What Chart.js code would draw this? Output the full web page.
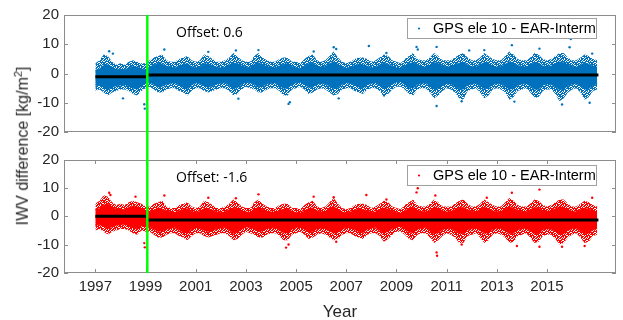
<!DOCTYPE html>
<html>
<head>
<meta charset="utf-8">
<script src="https://cdn.jsdelivr.net/npm/chart.js@4.4.1/dist/chart.umd.min.js"></script>
<style>
  html, body { margin: 0; padding: 0; background: #fff; }
  #wrap { position: relative; width: 623px; height: 320px; overflow: hidden; }
  #topChart { position: absolute; left: 0; top: 0; }
  #botChart { position: absolute; left: 0; top: 146px; }
  #yTitle {
    position: absolute; left: 22px; top: 146px;
    transform: translate(-50%, -50%) rotate(-90deg);
    white-space: nowrap;
    font: 16px "Liberation Sans", Arial, sans-serif;
    color: #262626;
  }
  #yTitle sup { font-size: 11px; }
</style>
</head>
<body>
<div id="wrap">
  <canvas id="topChart" width="623" height="146"></canvas>
  <canvas id="botChart" width="623" height="177"></canvas>
  <div id="yTitle">IWV difference [kg/m<sup>2</sup>]</div>
</div>
<script>
// samples every 2 months, 1997.0 .. 2017.0 (one row per year)
const binStart = 1997;
const binStep = 1 / 6;

const xTickYears = [1997, 1999, 2001, 2003, 2005, 2007, 2009, 2011, 2013, 2015];
const yTickValues = [-20, -10, 0, 10, 20];
const breakYear = 1999.07;
const legendLabel = 'GPS ele 10 - EAR-Interm';

// --- top panel (blue) ---
const blueCoreHi = [
  1.2, 1.6, 2.8, 3.0, 2.2, 1.4,
  1.5, 1.3, 2.0, 2.4, 2.2, 1.6,
  1.4, 2.4, 2.8, 3.6, 3.2, 2.6,
  2.2, 2.0, 2.6, 3.0, 3.4, 2.4,
  2.0, 2.4, 3.4, 3.2, 2.8, 2.2,
  2.0, 2.2, 3.0, 3.6, 3.4, 2.6,
  2.2, 2.0, 3.2, 3.8, 3.0, 2.4,
  2.2, 2.0, 2.6, 3.2, 3.4, 2.4,
  2.0, 1.8, 2.6, 3.4, 3.6, 2.6,
  2.2, 2.4, 3.4, 4.0, 3.2, 2.2,
  1.8, 2.2, 2.8, 3.2, 3.0, 2.6,
  2.0, 2.2, 3.0, 3.6, 3.2, 2.6,
  2.0, 1.8, 2.6, 3.4, 3.8, 2.8,
  2.4, 2.2, 2.8, 3.8, 3.4, 2.6,
  2.2, 2.4, 3.0, 3.6, 3.8, 3.0,
  2.4, 2.2, 3.0, 3.8, 3.4, 2.6,
  2.2, 2.4, 3.2, 4.0, 3.6, 2.8,
  2.4, 2.2, 3.0, 3.8, 3.6, 2.6,
  2.4, 2.6, 3.4, 4.0, 3.8, 3.0,
  2.4, 2.2, 3.0, 3.6, 3.2, 2.6,
  2.2
];
const blueCoreLo = [
  -4.2, -4.0, -4.6, -5.4, -4.8, -4.2,
  -4.0, -3.8, -4.4, -5.0, -5.4, -4.4,
  -3.4, -3.0, -3.8, -4.6, -4.4, -3.8,
  -3.4, -3.2, -4.0, -4.8, -5.2, -4.0,
  -3.2, -3.4, -4.2, -4.6, -4.4, -3.6,
  -3.4, -3.2, -4.0, -5.2, -4.8, -3.8,
  -3.0, -3.2, -3.8, -4.6, -4.4, -3.6,
  -3.4, -3.2, -4.2, -5.0, -5.0, -3.8,
  -3.2, -3.0, -3.8, -4.8, -4.6, -3.6,
  -3.4, -3.6, -4.4, -5.2, -4.8, -3.8,
  -3.2, -3.4, -4.0, -4.6, -5.0, -3.8,
  -3.4, -3.2, -4.2, -5.2, -4.6, -3.6,
  -3.0, -2.8, -3.8, -4.8, -5.0, -3.8,
  -3.4, -3.2, -4.4, -5.4, -5.0, -4.0,
  -3.4, -3.6, -4.4, -5.2, -5.4, -4.0,
  -3.6, -3.4, -4.2, -5.2, -5.0, -3.8,
  -3.4, -3.6, -4.4, -5.4, -5.2, -4.0,
  -3.6, -3.4, -4.4, -5.4, -5.4, -4.0,
  -3.6, -3.8, -4.6, -5.6, -5.4, -4.2,
  -3.6, -3.4, -4.4, -5.4, -5.2, -4.0,
  -3.6
];
const blueOutHi = [
  3.5, 4.5, 6.5, 6.0, 4.0, 3.0,
  3.5, 3.0, 4.0, 4.5, 4.0, 3.5,
  3.5, 4.5, 5.5, 6.0, 6.5, 4.5,
  4.0, 4.0, 5.0, 5.5, 6.0, 4.5,
  4.0, 4.5, 6.5, 6.0, 5.0, 4.0,
  4.0, 4.5, 5.5, 7.0, 6.0, 4.5,
  4.0, 4.0, 6.0, 7.0, 5.5, 4.5,
  4.0, 4.0, 5.0, 5.5, 5.5, 4.0,
  4.0, 3.5, 5.0, 6.0, 6.5, 4.5,
  4.0, 4.5, 6.0, 7.5, 5.5, 4.0,
  3.5, 4.0, 5.0, 5.5, 5.5, 5.0,
  4.0, 4.5, 5.5, 6.5, 6.0, 4.5,
  4.0, 3.5, 5.0, 6.0, 7.0, 5.0,
  4.5, 4.5, 5.5, 7.0, 6.0, 4.5,
  4.5, 4.5, 5.5, 6.5, 7.0, 5.5,
  4.5, 4.5, 5.5, 7.0, 6.0, 5.0,
  4.5, 4.5, 6.0, 7.5, 6.5, 5.0,
  4.5, 4.5, 5.5, 7.0, 6.5, 5.0,
  4.5, 5.0, 6.0, 7.0, 7.0, 5.5,
  4.5, 4.5, 5.5, 6.5, 6.0, 5.0,
  4.5
];
const blueOutLo = [
  -6.0, -5.5, -6.5, -7.5, -6.5, -6.0,
  -5.5, -5.5, -6.0, -7.0, -7.5, -6.0,
  -5.0, -4.5, -5.5, -6.5, -6.5, -5.5,
  -5.0, -5.0, -6.0, -6.5, -7.5, -6.0,
  -5.0, -5.0, -6.0, -6.5, -6.0, -5.5,
  -5.0, -5.0, -6.0, -7.5, -7.0, -5.5,
  -4.5, -5.0, -5.5, -6.5, -6.5, -5.5,
  -5.0, -5.0, -6.0, -7.5, -7.5, -5.5,
  -5.0, -4.5, -5.5, -7.0, -6.5, -5.5,
  -5.0, -5.5, -6.5, -7.5, -7.0, -5.5,
  -5.0, -5.0, -6.0, -6.5, -7.0, -5.5,
  -5.0, -5.0, -6.0, -8.0, -7.0, -5.5,
  -4.5, -4.5, -5.5, -7.0, -7.5, -5.5,
  -5.0, -5.0, -6.5, -8.5, -7.5, -6.0,
  -5.0, -5.5, -6.5, -8.5, -9.0, -6.0,
  -5.5, -5.0, -6.5, -8.5, -7.5, -5.5,
  -5.0, -5.5, -6.5, -9.0, -8.0, -6.0,
  -5.5, -5.0, -6.5, -8.5, -8.0, -6.0,
  -5.5, -5.5, -7.0, -9.5, -8.5, -6.5,
  -5.5, -5.0, -6.5, -9.0, -8.0, -6.0,
  -5.5
];
const blueOutliers = [
  [1997.55, 7.6], [1997.7, 6.8], [1998.1, -8.5], [1998.95, -10.5], [1998.97, -12.0],
  [1999.75, 8.2], [2001.5, 7.4], [2002.6, 7.9], [2002.7, -8.6], [2003.5, 8.0],
  [2004.7, -10.4], [2004.75, -9.8], [2005.7, 7.5], [2006.5, 9.0], [2006.6, 8.4],
  [2006.7, -8.5], [2007.9, 9.4], [2008.6, 7.0], [2009.8, 9.1], [2009.85, 8.2],
  [2010.6, 9.1], [2010.6, -11.1], [2011.6, -9.5], [2011.9, 7.9], [2012.5, 8.0],
  [2013.6, 9.7], [2013.7, -9.6], [2014.7, 8.5], [2015.6, -10.6], [2015.9, 9.0],
  [2015.95, 11.8], [2016.7, -10.0], [2016.8, 6.8]
];
const blueMeanBefore = -1.15;
const blueMeanAfter = -0.55;
const blueOffsetText = 'Offset: 0.6';

// --- bottom panel (red) ---
const redCoreHi = [
  2.4, 2.8, 4.0, 4.4, 3.4, 2.6,
  2.6, 2.4, 3.2, 3.6, 3.4, 2.8,
  2.0, 1.8, 2.2, 3.0, 2.6, 2.0,
  1.6, 1.4, 2.0, 2.4, 2.8, 1.8,
  1.4, 1.8, 2.8, 2.6, 2.2, 1.6,
  1.4, 1.6, 2.4, 3.0, 2.8, 2.0,
  1.6, 1.4, 2.6, 3.2, 2.4, 1.8,
  1.6, 1.4, 2.0, 2.6, 2.8, 1.8,
  1.4, 1.2, 2.0, 2.8, 3.0, 2.0,
  1.6, 1.8, 2.8, 3.4, 2.6, 1.6,
  1.2, 1.6, 2.2, 2.6, 2.4, 2.0,
  1.4, 1.6, 2.4, 3.0, 2.6, 2.0,
  1.4, 1.2, 2.0, 2.8, 3.2, 2.2,
  1.8, 1.6, 2.2, 3.2, 2.8, 2.0,
  1.6, 1.8, 2.4, 3.0, 3.2, 2.4,
  1.8, 1.6, 2.4, 3.2, 2.8, 2.0,
  1.6, 1.8, 2.6, 3.4, 3.0, 2.2,
  1.8, 1.6, 2.4, 3.2, 3.0, 2.0,
  1.8, 2.0, 2.8, 3.4, 3.2, 2.4,
  1.8, 1.6, 2.4, 3.0, 2.6, 2.0,
  1.6
];
const redCoreLo = [
  -3.2, -3.0, -3.6, -4.4, -3.8, -3.2,
  -3.0, -2.8, -3.4, -4.0, -4.4, -3.4,
  -3.8, -3.8, -4.6, -5.4, -5.2, -4.6,
  -4.2, -4.0, -4.8, -5.6, -6.0, -4.8,
  -4.0, -4.2, -5.0, -5.4, -5.2, -4.4,
  -4.2, -4.0, -4.8, -6.0, -5.6, -4.6,
  -3.8, -4.0, -4.6, -5.4, -5.2, -4.4,
  -4.2, -4.0, -5.0, -5.8, -5.8, -4.6,
  -4.0, -3.8, -4.6, -5.6, -5.4, -4.4,
  -4.2, -4.4, -5.2, -6.0, -5.6, -4.6,
  -4.0, -4.2, -4.8, -5.4, -5.8, -4.6,
  -4.2, -4.0, -5.0, -6.0, -5.4, -4.4,
  -3.8, -3.6, -4.6, -5.6, -5.8, -4.6,
  -4.2, -4.0, -5.2, -6.2, -5.8, -4.8,
  -4.2, -4.4, -5.2, -6.0, -6.2, -4.8,
  -4.4, -4.2, -5.0, -6.0, -5.8, -4.6,
  -4.2, -4.4, -5.2, -6.2, -6.0, -4.8,
  -4.4, -4.2, -5.2, -6.2, -6.2, -4.8,
  -4.4, -4.6, -5.4, -6.4, -6.2, -5.0,
  -4.4, -4.2, -5.2, -6.2, -6.0, -4.8,
  -4.4
];
const redOutHi = [
  4.5, 5.5, 7.5, 7.0, 5.0, 4.0,
  4.5, 4.0, 5.0, 5.5, 5.0, 4.5,
  3.5, 3.5, 4.5, 5.0, 5.5, 3.5,
  3.0, 3.0, 4.0, 4.5, 5.0, 3.5,
  3.0, 3.5, 5.5, 5.0, 4.0, 3.0,
  3.0, 3.5, 4.5, 6.0, 5.0, 3.5,
  3.0, 3.0, 5.0, 6.0, 4.5, 3.5,
  3.0, 3.0, 4.0, 4.5, 4.5, 3.0,
  3.0, 2.5, 4.0, 5.0, 5.5, 3.5,
  3.0, 3.5, 5.0, 6.5, 4.5, 3.0,
  2.5, 3.0, 4.0, 4.5, 4.5, 4.0,
  3.0, 3.5, 4.5, 5.5, 5.0, 3.5,
  3.0, 2.5, 4.0, 5.0, 6.0, 4.0,
  3.5, 3.5, 4.5, 6.0, 5.0, 3.5,
  3.5, 3.5, 4.5, 5.5, 6.0, 4.5,
  3.5, 3.5, 4.5, 6.0, 5.0, 4.0,
  3.5, 3.5, 5.0, 6.5, 5.5, 4.0,
  3.5, 3.5, 4.5, 6.0, 5.5, 4.0,
  3.5, 4.0, 5.0, 6.0, 6.0, 4.5,
  3.5, 3.5, 4.5, 5.5, 5.0, 4.0,
  3.5
];
const redOutLo = [
  -5.0, -4.5, -5.5, -6.5, -5.5, -5.0,
  -4.5, -4.5, -5.0, -6.0, -6.5, -5.0,
  -5.5, -5.5, -6.5, -7.5, -7.5, -6.5,
  -6.0, -6.0, -7.0, -7.5, -8.5, -7.0,
  -6.0, -6.0, -7.0, -7.5, -7.0, -6.5,
  -6.0, -6.0, -7.0, -8.5, -8.0, -6.5,
  -5.5, -6.0, -6.5, -7.5, -7.5, -6.5,
  -6.0, -6.0, -7.0, -8.5, -8.5, -6.5,
  -6.0, -5.5, -6.5, -8.0, -7.5, -6.5,
  -6.0, -6.5, -7.5, -8.5, -8.0, -6.5,
  -6.0, -6.0, -7.0, -7.5, -8.0, -6.5,
  -6.0, -6.0, -7.0, -9.0, -8.0, -6.5,
  -5.5, -5.5, -6.5, -8.0, -8.5, -6.5,
  -6.0, -6.0, -7.5, -9.5, -8.5, -7.0,
  -6.0, -6.5, -7.5, -9.5, -9.5, -7.0,
  -6.5, -6.0, -7.5, -9.5, -8.5, -6.5,
  -6.0, -6.5, -7.5, -9.5, -9.0, -7.0,
  -6.5, -6.0, -7.5, -9.5, -9.0, -7.0,
  -6.5, -6.5, -8.0, -10.0, -9.5, -7.5,
  -6.5, -6.0, -7.5, -9.5, -9.0, -7.0,
  -6.5
];
const redOutliers = [
  [1997.55, 8.4], [1997.6, 7.6], [1998.6, 7.0], [1998.95, -9.5], [1998.97, -11.0],
  [1999.75, 7.4], [2001.5, 6.6], [2002.6, 6.4], [2003.5, 7.8], [2004.6, -11.1],
  [2004.7, -10.0], [2005.7, 7.0], [2006.5, 6.8], [2006.6, -9.0], [2007.8, 7.6],
  [2008.6, 6.0], [2009.8, 8.5], [2009.85, 10.0], [2010.6, -12.8], [2010.62, -14.0],
  [2010.55, 7.4], [2011.6, -10.0], [2012.6, 6.6], [2013.6, 8.4], [2013.8, -10.5],
  [2014.7, 9.5], [2014.7, -10.8], [2015.6, -10.8], [2015.95, 11.2], [2016.5, -10.5],
  [2016.8, 6.6]
];
const redMeanBefore = 0.0;
const redMeanAfter = -1.3;
const redOffsetText = 'Offset: -1.6';

const dataStart = 1997.0;
const dataEnd = 2017.05;

// stipple used for the sparse fringe of the point cloud
const stippleRows = [
  '11101011',
  '10111100',
  '01110111',
  '11010110',
  '10101101',
  '01111010',
  '11001111',
  '10110101'
];

function toPoints(values) {
  return values.map((v, i) => ({ x: binStart + i * binStep, y: v }));
}

function stipple(targetCanvas, color) {
  const tile = document.createElement('canvas');
  tile.width = stippleRows[0].length;
  tile.height = stippleRows.length;
  const tctx = tile.getContext('2d');
  tctx.fillStyle = color;
  stippleRows.forEach((row, r) => {
    for (let c = 0; c < row.length; c++) {
      if (row[c] === '1') tctx.fillRect(c, r, 1, 1);
    }
  });
  return targetCanvas.getContext('2d').createPattern(tile, 'repeat');
}

// box, inward ticks, break line, offset note and legend box
const panelDecor = {
  id: 'panelDecor',
  afterDraw(chart, args, opts) {
    const ctx = chart.ctx;
    const a = chart.chartArea;
    const x = chart.scales.x, y = chart.scales.y;
    const L = Math.round(a.left), R = Math.round(a.right);
    const T = Math.round(a.top), B = Math.round(a.bottom);
    ctx.save();
    ctx.globalAlpha = 1;

    ctx.fillStyle = '#8c8c8c';
    ctx.fillRect(L, T, R - L, 1);
    ctx.fillRect(L, B - 1, R - L, 1);
    ctx.fillRect(L, T, 1, B - T);
    ctx.fillRect(R - 1, T, 1, B - T);
    yTickValues.forEach(v => {
      const py = Math.round(y.getPixelForValue(v));
      ctx.fillRect(L, py, 4, 1);
      ctx.fillRect(R - 4, py, 4, 1);
    });
    if (opts.xTicks) {
      xTickYears.forEach(v => {
        const px = Math.round(x.getPixelForValue(v));
        ctx.fillRect(px, T, 1, 4);
        ctx.fillRect(px, B - 4, 1, 4);
      });
    }

    // change-point line, running through the gap between the panels
    const gx = x.getPixelForValue(breakYear);
    ctx.strokeStyle = '#00ff00';
    ctx.lineWidth = 2.5;
    ctx.beginPath();
    ctx.moveTo(gx, opts.greenToEdgeTop ? 0 : T);
    ctx.lineTo(gx, opts.greenToEdgeTop ? B : chart.height);
    ctx.stroke();

    ctx.fillStyle = '#000';
    ctx.font = '14px "Open Sans", sans-serif';
    ctx.textBaseline = 'middle';
    ctx.textAlign = 'left';
    ctx.fillText(opts.note, L + 112, T + 18.5);

    const lx = 407, ly = T + opts.legendDy, lw = 190, lh = 21;
    ctx.fillStyle = '#fff';
    ctx.fillRect(lx, ly, lw, lh);
    ctx.strokeStyle = '#a0a0a0';
    ctx.lineWidth = 1;
    ctx.strokeRect(lx + 0.5, ly + 0.5, lw - 1, lh - 1);
    ctx.fillStyle = opts.color;
    ctx.beginPath();
    ctx.arc(lx + 12, ly + lh / 2, 1.1, 0, Math.PI * 2);
    ctx.fill();
    ctx.fillStyle = '#000';
    ctx.font = '14.5px "Liberation Sans", Arial, sans-serif';
    ctx.fillText(legendLabel, lx + 26, ly + lh / 2 + 0.5);

    ctx.restore();
  }
};

function makePanel(canvasId, color, outHi, outLo, coreHi, coreLo, outliers, meanBefore, meanAfter, note, isBottom) {
  const canvas = document.getElementById(canvasId);
  const fringe = stipple(canvas, color);
  return new Chart(canvas, {
    type: 'line',
    data: {
      datasets: [
        { data: toPoints(outHi), fill: '+1', backgroundColor: fringe, borderWidth: 0, pointRadius: 0, order: 9 },
        { data: toPoints(outLo), fill: false, borderWidth: 0, pointRadius: 0, order: 8 },
        { data: toPoints(coreHi), fill: '+1', backgroundColor: color, borderColor: color, borderWidth: 0.6, pointRadius: 0, order: 7 },
        { data: toPoints(coreLo), fill: false, borderColor: color, borderWidth: 0.6, pointRadius: 0, order: 6 },
        { data: outliers.map(p => ({ x: p[0], y: p[1] })), showLine: false, pointRadius: 1.2,
          pointBorderWidth: 0, pointBackgroundColor: color, order: 5 },
        { data: [{ x: dataStart, y: meanBefore }, { x: breakYear, y: meanBefore }],
          borderColor: '#000', borderWidth: 3, pointRadius: 0, fill: false, order: 2 },
        { data: [{ x: breakYear, y: meanAfter }, { x: dataEnd, y: meanAfter }],
          borderColor: '#000', borderWidth: 3, pointRadius: 0, fill: false, order: 1 }
      ]
    },
    options: {
      responsive: false,
      animation: false,
      events: [],
      layout: { padding: { left: 0, right: 7, top: isBottom ? 10 : 15, bottom: isBottom ? 0 : 9 } },
      elements: { line: { tension: 0 } },
      plugins: {
        legend: { display: false },
        tooltip: { enabled: false },
        panelDecor: { color: color, note: note, xTicks: isBottom, greenToEdgeTop: isBottom, legendDy: isBottom ? 5 : 3 }
      },
      scales: {
        x: {
          type: 'linear',
          min: 1995.75,
          max: 2017.75,
          display: isBottom,
          grid: { display: false, drawTicks: false },
          border: { display: false },
          afterBuildTicks: scale => { scale.ticks = xTickYears.map(v => ({ value: v })); },
          afterFit: scale => { scale.height = isBottom ? 50.3 : 0; },
          ticks: {
            padding: 5,
            color: '#262626',
            font: { family: '"Liberation Sans", Arial, sans-serif', size: 15 },
            callback: v => String(v)
          },
          title: {
            display: true,
            text: 'Year',
            color: '#262626',
            font: { family: '"Liberation Sans", Arial, sans-serif', size: 17 },
            padding: { top: 0, bottom: 0 }
          }
        },
        y: {
          min: -20,
          max: 20,
          grid: { display: false, drawTicks: false },
          border: { display: false },
          afterBuildTicks: scale => { scale.ticks = yTickValues.map(v => ({ value: v })); },
          afterFit: scale => { scale.width = 64; },
          ticks: {
            padding: 5,
            color: '#262626',
            font: { family: '"Liberation Sans", Arial, sans-serif', size: 15 }
          }
        }
      }
    },
    plugins: [panelDecor]
  });
}

makePanel('topChart', '#0072BD', blueOutHi, blueOutLo, blueCoreHi, blueCoreLo, blueOutliers,
  blueMeanBefore, blueMeanAfter, blueOffsetText, false);
makePanel('botChart', '#FF0000', redOutHi, redOutLo, redCoreHi, redCoreLo, redOutliers,
  redMeanBefore, redMeanAfter, redOffsetText, true);
</script>
</body>
</html>
